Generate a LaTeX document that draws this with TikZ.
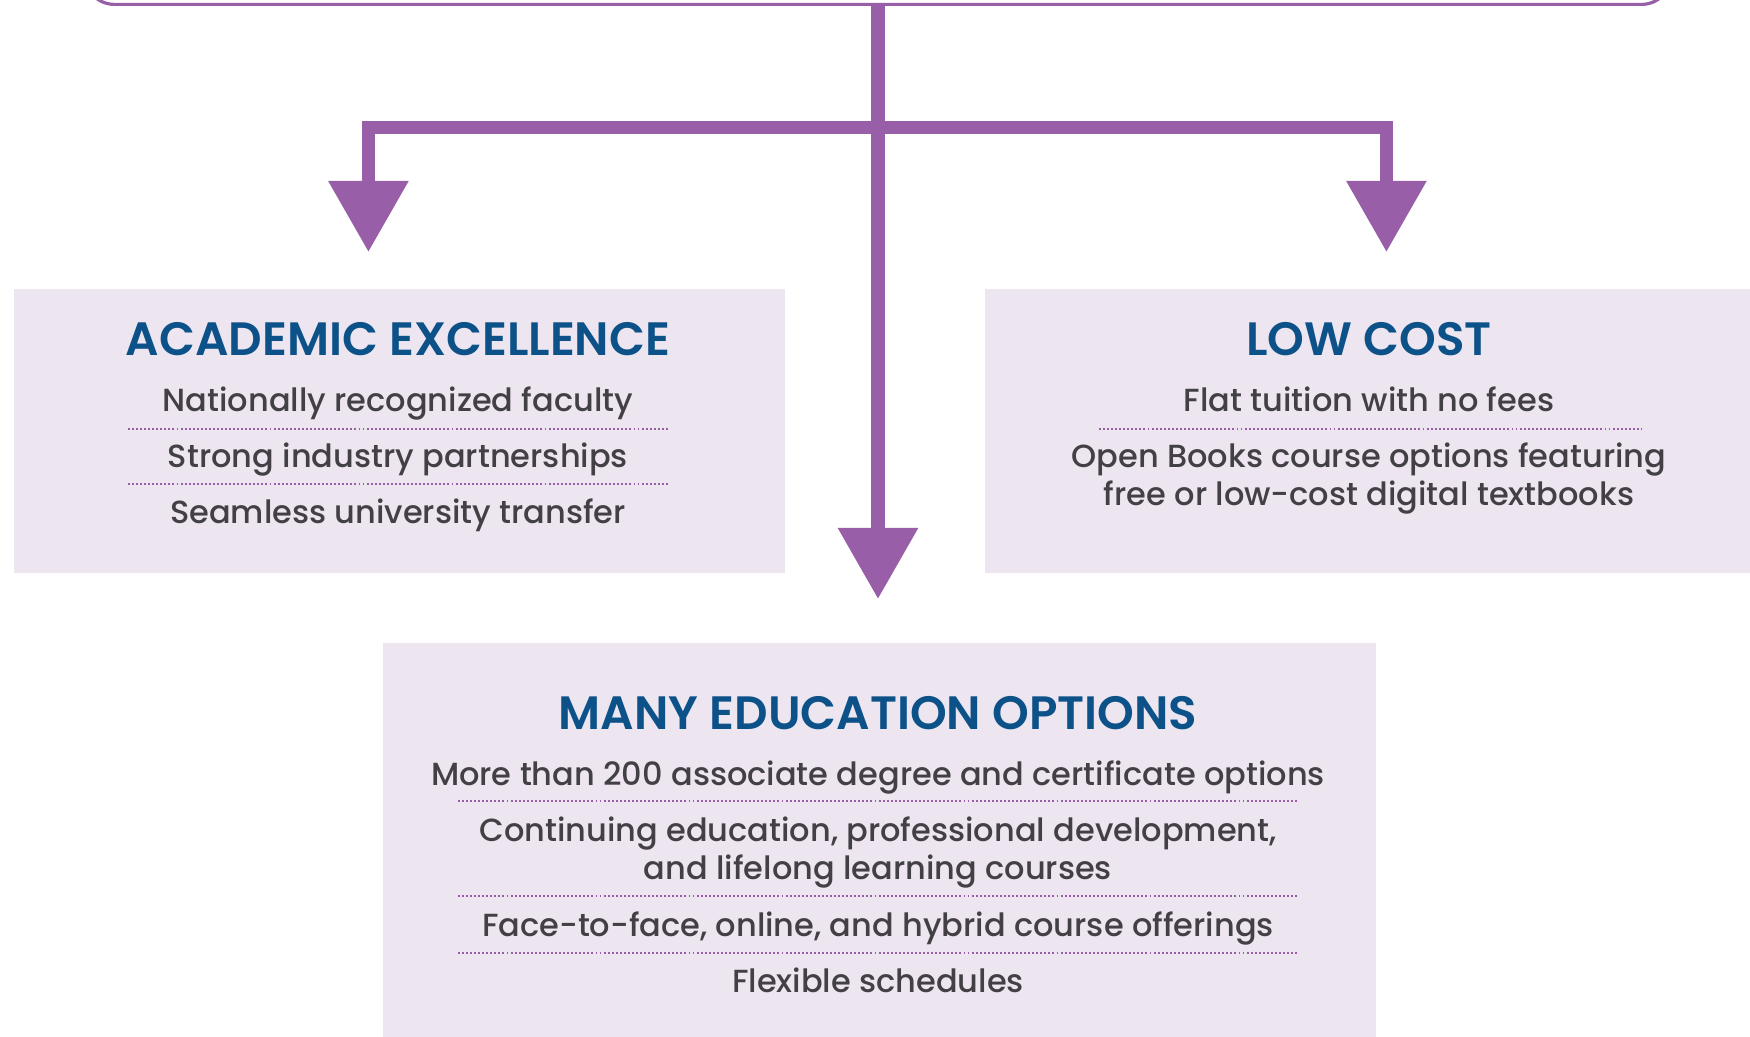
\documentclass[tikz,border=0pt]{standalone}
\usepackage{fontspec}
\setmainfont{Poppins}
\IfFontExistsTF{Poppins Medium}{\newfontfamily\itemfont{Poppins Medium}}{\newfontfamily\itemfont{Poppins}}
\IfFontExistsTF{Poppins SemiBold}{\newfontfamily\headfont{Poppins SemiBold}}{\newfontfamily\headfont{Poppins}[UprightFont=*-Bold]}
\usetikzlibrary{arrows.meta}
\definecolor{plum}{HTML}{985FA8}
\definecolor{lavender}{HTML}{EDE6F1}
\definecolor{navy}{HTML}{0D5189}
\definecolor{slate}{HTML}{434045}
\newcommand{\twolines}[2]{\begin{tabular}[t]{@{}c@{}}#1\\#2\end{tabular}}
\tikzset{
  panel/.style={fill=lavender, inner sep=0pt, anchor=north west},
  heading/.style={text=navy, anchor=base, font=\headfont\fontsize{13.3}{15}\selectfont},
  item/.style={text=slate, anchor=base, inner sep=0pt, font=\itemfont\fontsize{9.1}{10.8}\selectfont},
  sep/.style={draw=plum, line width=0.55pt, dash pattern=on 0.55pt off 0.6pt},
  link/.style={draw=plum, line width=3.7pt, -{Triangle[length=20.2pt, width=21.9pt]}},
}
\begin{document}
\begin{tikzpicture}[x=0.01cm, y=-0.01cm]
\useasboundingbox (0,0) rectangle (1750,1037);
\node[draw=plum, line width=0.9pt, rounded corners=0.3cm, minimum width=15.86cm, minimum height=1cm, anchor=south] (mission) at (878,6) {};
\node[panel, minimum width=7.71cm, minimum height=2.84cm] (academic) at (13,288) {};
\node[panel, minimum width=7.71cm, minimum height=2.84cm] (cost) at (984,288) {};
\node[panel, minimum width=9.93cm, minimum height=3.96cm] (many) at (382,642) {};
\node[heading] (acadhead) at (398,356) {ACADEMIC EXCELLENCE};
\node[item] (faculty) at (398,412) {Nationally recognized faculty};
\node[item] (industry) at (398,468) {Strong industry partnerships};
\node[item] (transfer) at (398,524) {Seamless university transfer};
\node[heading] (costhead) at (1369,356) {LOW COST};
\node[item] (tuition) at (1369,412) {Flat tuition with no fees};
\node[item] (books) at (1369,468) {\twolines{Open Books course options featuring}{free or low-cost digital textbooks}};
\node[heading] (manyhead) at (878,730) {MANY EDUCATION OPTIONS};
\node[item] (degree) at (878,786) {More than 200 associate degree and certificate options};
\node[item] (continuing) at (878,842) {\twolines{Continuing education, professional development,}{and lifelong learning courses}};
\node[item] (hybrid) at (878,937) {Face-to-face, online, and hybrid course offerings};
\node[item] (flexible) at (878,993) {Flexible schedules};
% dotted separators
\draw[sep] (128,429) -- (668,429);
\draw[sep] (128,484) -- (668,484);
\draw[sep] (1099,429) -- (1641,429);
\draw[sep] (458,801) -- (1298,801);
\draw[sep] (458,896) -- (1298,896);
\draw[sep] (458,953) -- (1298,953);
% arrows
\coordinate (fork) at (878,128);
\draw[link, shorten >=0.43cm] (mission.south) -- (mission.south |- many.north);
\draw[link, shorten >=0.36cm] (fork) -| ([xshift=-0.31cm]academic.north);
\draw[link, shorten >=0.36cm] (fork) -| ([xshift=0.16cm]cost.north);
\end{tikzpicture}
\end{document}
